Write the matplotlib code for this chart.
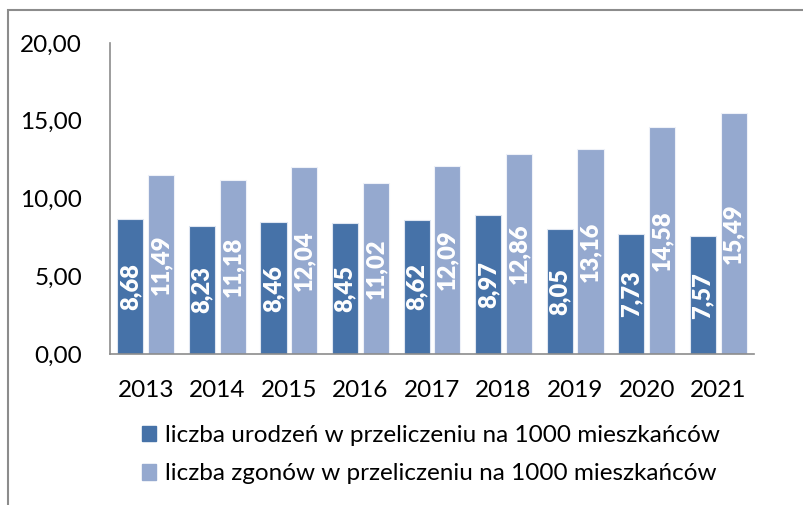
import matplotlib

matplotlib.use("Agg")

import matplotlib.pyplot as plt
import numpy as np
from matplotlib.patches import Patch, Rectangle

years = ["2013", "2014", "2015", "2016", "2017", "2018", "2019", "2020", "2021"]
births = [8.68, 8.23, 8.46, 8.45, 8.62, 8.97, 8.05, 7.73, 7.57]
deaths = [11.49, 11.18, 12.04, 11.02, 12.09, 12.86, 13.16, 14.58, 15.49]
series_labels = [
    "liczba urodzeń w przeliczeniu na 1000 mieszkańców",
    "liczba zgonów w przeliczeniu na 1000 mieszkańców",
]
y_ticks = [0, 5, 10, 15, 20]

dark_blue = "#4672a8"
light_blue = "#95a9cf"

plt.rcParams["font.family"] = ["Lato", "DejaVu Sans"]

fig = plt.figure(figsize=(8.04, 5.05), dpi=100)
W, H = 804, 505

# outer chart frame (cut off at the right and bottom)
fig.patches.append(
    Rectangle((8 / W, -0.1), 1.2, (H - 10) / H + 0.1,
              transform=fig.transFigure, fill=False,
              edgecolor="#8c8c8c", linewidth=1.5)
)

ax = fig.add_axes([110 / W, 1 - 354 / H, 644 / W, 311 / H])

x = np.arange(len(years))
width = 0.365
offset = 0.215

bars_b = ax.bar(x - offset, births, width, color=dark_blue,
                edgecolor="#dfe6f1", linewidth=0.8)
bars_d = ax.bar(x + offset, deaths, width, color=light_blue,
                edgecolor="#eef1f8", linewidth=0.8)

for bars, vals in ((bars_b, births), (bars_d, deaths)):
    for bar, v in zip(bars, vals):
        ax.text(bar.get_x() + bar.get_width() / 2, v / 2,
                f"{v:.2f}".replace(".", ","),
                rotation=90, ha="center", va="center",
                color="white", fontweight="heavy", fontsize=17)

ax.set_xlim(-0.5, len(years) - 0.5)
ax.set_ylim(0, 20)
ax.set_yticks(y_ticks)
ax.set_yticklabels([f"{t:.2f}".replace(".", ",") for t in y_ticks])
ax.set_xticks(x)
ax.set_xticklabels(years)
ax.tick_params(axis="both", length=0, labelsize=17.5, colors="black")
ax.tick_params(axis="y", pad=20)
ax.tick_params(axis="x", pad=19)

for side in ("top", "right"):
    ax.spines[side].set_visible(False)
for side in ("left", "bottom"):
    ax.spines[side].set_color("#8c8c8c")
    ax.spines[side].set_linewidth(1.2)

handles = [Patch(color=dark_blue), Patch(color=light_blue)]
fig.legend(handles, series_labels, loc="upper left",
           bbox_to_anchor=(120 / W, 1 - 403 / H), frameon=False,
           fontsize=17.5, handlelength=0.6, handleheight=0.6,
           handletextpad=0.35, labelspacing=0.72)

fig.savefig("out.png", dpi=100)
